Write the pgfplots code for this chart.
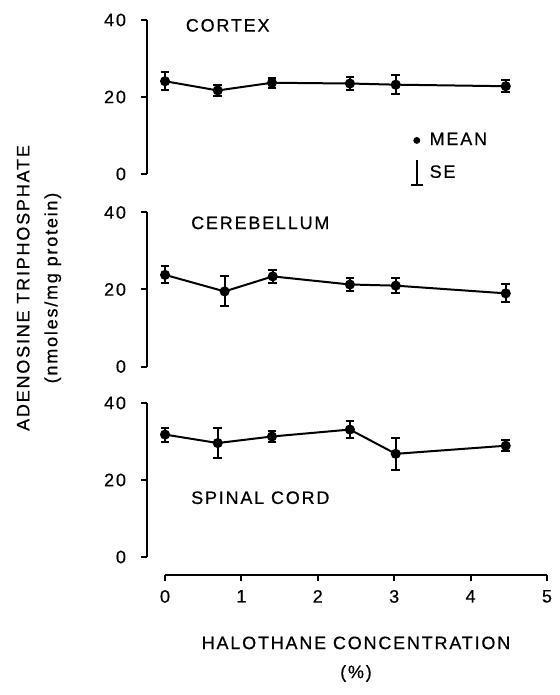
\documentclass[border=0pt]{standalone}
\usepackage{pgfplots}
\pgfplotsset{compat=1.18}
\usepackage{fontspec}
\setmainfont{Liberation Sans}[LetterSpace=10, FakeBold=0.6]

\pgfplotstableread{
x y e
0 24.1 2.3
0.69 21.7 1.4
1.40 23.7 1.3
2.42 23.5 1.7
3.02 23.2 2.4
4.46 22.8 1.6
}\cortex
\pgfplotstableread{
x y e
0 23.8 2.2
0.78 19.5 3.9
1.41 23.4 1.6
2.42 21.3 1.6
3.02 21.0 2.0
4.46 19.0 2.3
}\cerebellum
\pgfplotstableread{
x y e
0 31.8 1.8
0.69 29.6 4.0
1.40 31.3 1.5
2.42 33.1 2.2
3.02 26.8 4.1
4.46 28.9 1.4
}\spinal

\begin{document}
\begin{tikzpicture}
\path[use as bounding box] (0,0) rectangle (279.5pt,-347.5pt);
\pgfplotsset{
  panel/.style={scale only axis, width=200pt, height=77pt,
    xmin=-0.236, xmax=5, ymin=0, ymax=40,
    axis x line=none, axis y line=left,
    y axis line style={-, line width=1pt},
    ytick={0,20,40}, ytick align=outside, major tick length=3pt,
    every tick/.style={line width=1pt, black},
    yticklabel style={font=\fontsize{9}{10}\selectfont, xshift=-4pt},
    /pgf/number format/assume math mode=true,
    anchor=south west, clip=false},
  ser/.style={black, line width=1pt, mark=*, mark size=2pt,
    error bars/.cd, y dir=both, y explicit,
    error bar style={line width=1pt},
    error mark options={black, mark size=2.2pt, line width=1pt, rotate=90}},
}
% Cortex
\begin{axis}[panel, at={(73.5pt,-87pt)},
  legend style={at={(axis cs:3.2,11.6)}, anchor=north west, draw=none, fill=none,
    inner sep=0pt, row sep=4pt, font=\fontsize{9}{10}\selectfont,
    nodes={inner sep=1.5pt}},
  legend cell align=left]
\addplot[forget plot, ser] table[x=x, y=y, y error=e] {\cortex};
\addlegendimage{legend image code/.code={\fill[black] (0.35em,0) circle (1.5pt);}}
\addlegendentry{\,MEAN}
\addlegendimage{legend image code/.code={\draw[line width=0.9pt] (0.35em,-0.6em)--(0.35em,0.65em); \draw[line width=0.9pt](0.05em,-0.6em)--(0.65em,-0.6em);}}
\addlegendentry{\,SE}
\node[anchor=west, font=\fontsize{9}{10}\selectfont] at (axis cs:0.18,38.6) {CORTEX};
\end{axis}
% Cerebellum
\begin{axis}[panel, at={(73.5pt,-183.25pt)}]
\addplot[ser] table[x=x, y=y, y error=e] {\cerebellum};
\node[anchor=west, font=\fontsize{9}{10}\selectfont] at (axis cs:0.25,37.3) {CEREBELLUM};
\end{axis}
% Spinal cord
\begin{axis}[panel, at={(73.5pt,-278.5pt)}]
\addplot[ser] table[x=x, y=y, y error=e] {\spinal};
\node[anchor=west, font=\fontsize{9}{10}\selectfont] at (axis cs:0.25,15.4) {SPINAL CORD};
\end{axis}
% X axis
\begin{axis}[scale only axis, width=191pt, height=10pt, at={(82.5pt,-287.5pt)}, anchor=south west,
  xmin=0, xmax=5, ymin=0, ymax=1,
  axis x line=bottom, axis y line=none,
  x axis line style={-, line width=1pt},
  xtick={0,1,2,3,4,5}, xtick align=outside, major tick length=3pt,
  every tick/.style={line width=1pt, black},
  xticklabel style={font=\fontsize{9}{10}\selectfont, yshift=-1pt},
  /pgf/number format/assume math mode=true,
  xlabel={HALOTHANE CONCENTRATION\\(\%)},
  xlabel style={align=center, font=\fontsize{9}{14.5}\selectfont, yshift=-10pt}]
\addplot[draw=none] coordinates {(0,0)};
\end{axis}
\node[rotate=90, align=center, font=\fontsize{9}{14}\selectfont] at (19.5pt,-144pt)
  {ADENOSINE TRIPHOSPHATE\\(nmoles/mg protein)};
\end{tikzpicture}
\end{document}
